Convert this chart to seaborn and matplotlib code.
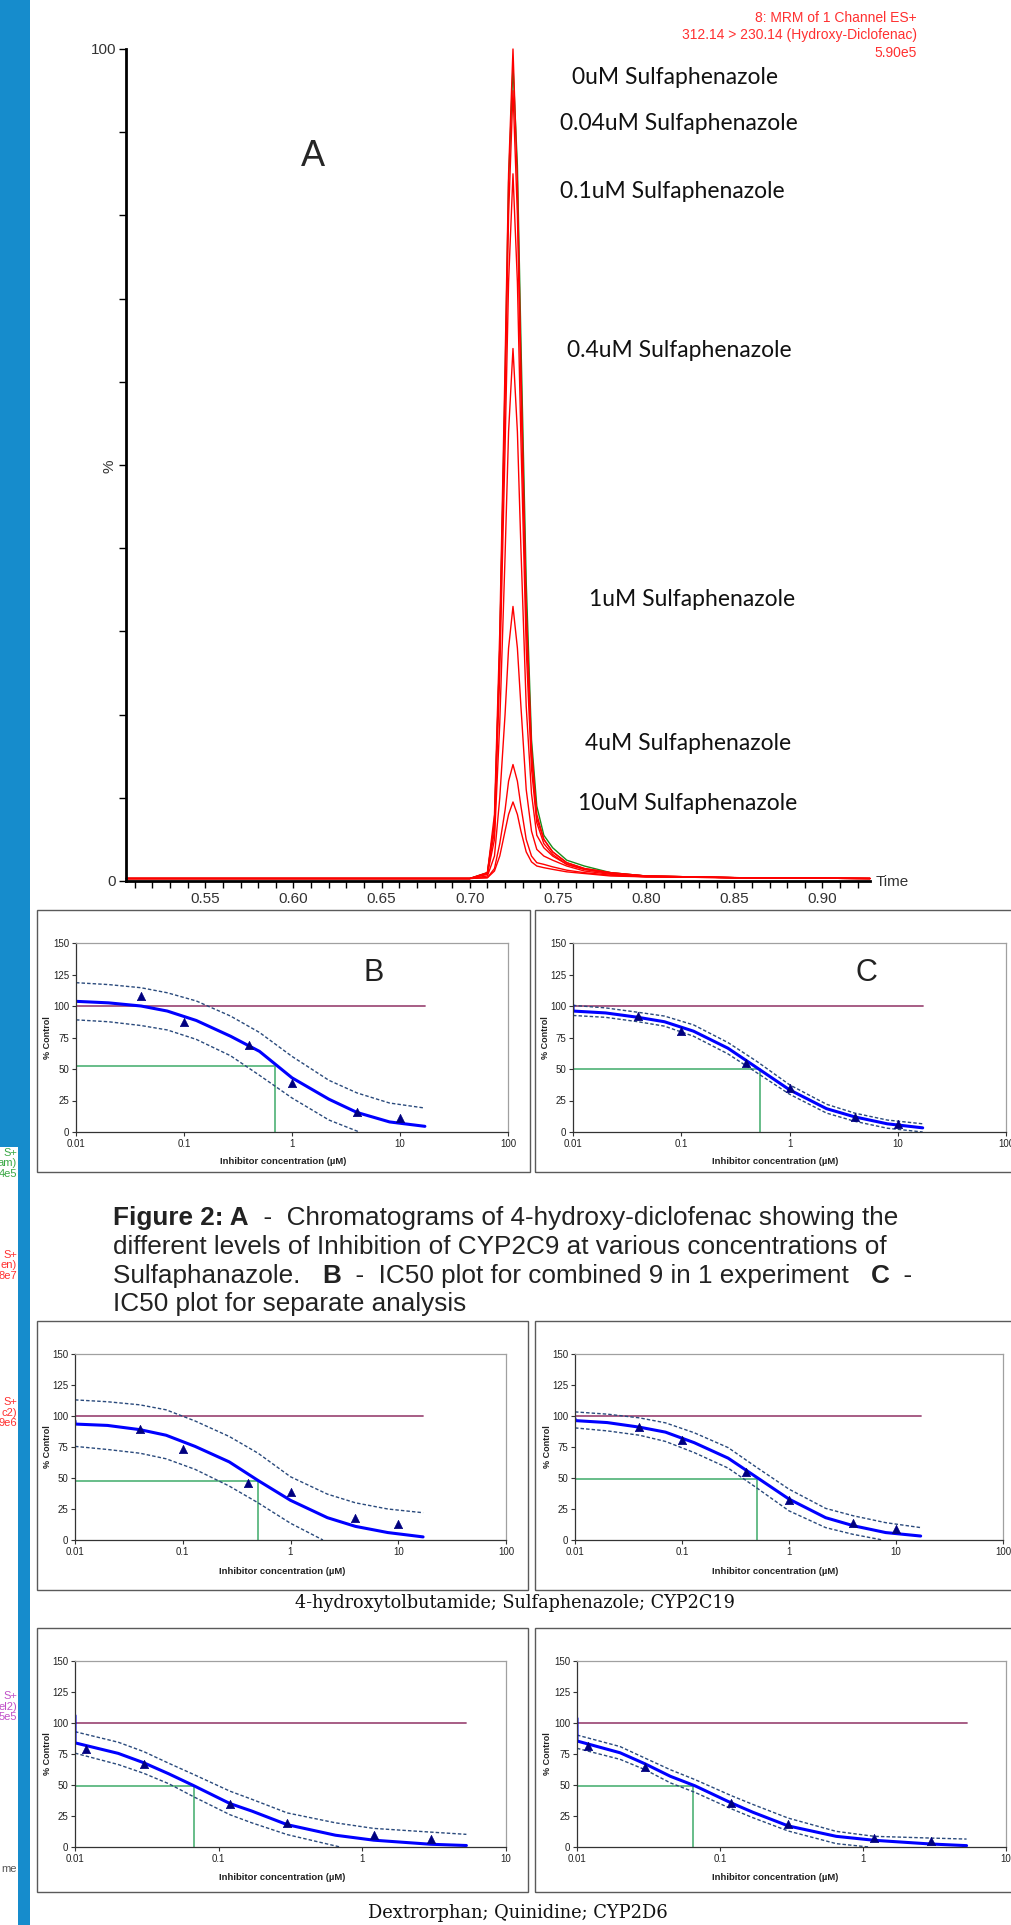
import matplotlib
matplotlib.use("Agg")
import matplotlib.pyplot as plt
from matplotlib.patches import Rectangle
from matplotlib.ticker import NullLocator
import numpy as np
import seaborn as sns

W, H = 1011, 1925

# ---- chromatogram A: retention time (min) and % of largest peak ----
rt = [0.505, 0.700, 0.710, 0.714, 0.717, 0.720, 0.722, 0.7245, 0.727, 0.729, 0.732,
      0.735, 0.738, 0.742, 0.747, 0.755, 0.765, 0.780, 0.800, 0.850, 0.927]
trace_green = [0.3, 0.3, 1.0, 7, 28, 60, 84, 98, 86, 65, 36, 17, 9, 5.5, 4, 2.5, 1.8, 1.0, 0.6, 0.4, 0.3]
trace_0 = [0.3, 0.3, 1.0, 8, 30, 62, 85, 100, 84, 62, 33, 16, 8, 5, 3.5, 2.2, 1.5, 1.0, 0.6, 0.4, 0.3]
trace_004 = [0.3, 0.3, 1.0, 7, 28, 58, 80, 95, 80, 59, 31, 15, 7.5, 5, 3.5, 2.2, 1.5, 1.0, 0.6, 0.4, 0.3]
trace_01 = [0.3, 0.3, 0.9, 6, 25, 52, 72, 85, 72, 53, 28, 13.5, 7, 4.5, 3.2, 2.0, 1.4, 0.9, 0.6, 0.4, 0.3]
trace_04 = [0.3, 0.3, 0.8, 5, 19, 39, 54, 64, 54, 40, 21, 10.5, 5.5, 4, 3, 2.0, 1.4, 0.9, 0.6, 0.4, 0.3]
trace_1 = [0.3, 0.3, 0.6, 3, 10, 20, 28, 33, 28, 21, 11, 6, 3.8, 3, 2.5, 1.8, 1.2, 0.8, 0.5, 0.4, 0.3]
trace_4 = [0.3, 0.3, 0.4, 1.5, 4.5, 8.5, 12, 14, 12, 9, 5, 3, 2.2, 2, 1.7, 1.3, 1.0, 0.7, 0.5, 0.4, 0.3]
trace_10 = [0.3, 0.3, 0.4, 1.2, 3, 6, 8, 9.5, 8, 6, 3.5, 2.3, 1.8, 1.6, 1.4, 1.1, 0.9, 0.6, 0.5, 0.4, 0.3]
conc_labels = ["0uM Sulfaphenazole", "0.04uM Sulfaphenazole", "0.1uM Sulfaphenazole",
               "0.4uM Sulfaphenazole", "1uM Sulfaphenazole", "4uM Sulfaphenazole",
               "10uM Sulfaphenazole"]
header_lines = ["8: MRM of 1 Channel ES+", "312.14 > 230.14 (Hydroxy-Diclofenac)", "5.90e5"]
rt_ticks = [0.55, 0.60, 0.65, 0.70, 0.75, 0.80, 0.85, 0.90]

# ---- IC50 plots (inhibitor conc in uM, % control) ----
conc = [0.04, 0.1, 0.4, 1, 4, 10]
conc_2d6 = [0.012, 0.03, 0.12, 0.3, 1.2, 3]
grid = [0.01, 0.02, 0.04, 0.07, 0.13, 0.27, 0.5, 1, 2.2, 4, 8, 17]
grid_2d6 = [0.01, 0.02, 0.03, 0.045, 0.067, 0.12, 0.17, 0.3, 0.65, 1.2, 3, 5.3]

# B - combined 9 in 1 (CYP2C9)
b_pct = [108, 87, 69, 39, 16, 11]
b_fit = [103.7, 102.5, 100, 96, 88.5, 76, 64, 43, 26, 15.5, 8, 4.5]
b_hi = [118.5, 117, 114.5, 110.5, 104, 92, 79, 60, 41, 31, 23, 19]
b_lo_x = [0.01, 0.02, 0.04, 0.07, 0.13, 0.27, 0.5, 1, 2.2, 4.2]
b_lo = [89, 87.5, 84.5, 81, 73.5, 60.5, 45, 27, 9.5, 0]
b_ic50 = (0.70, 52)

# C - separate analysis (CYP2C9)
c_pct = [92, 80, 55, 35, 12, 6.6]
c_fit = [100.5, 96, 94.5, 91, 87.5, 80, 66.5, 51, 33.5, 18.5, 12, 6.5, 3.3]
c_hi = [100.5, 98.5, 95, 92, 85, 71, 56, 37.5, 22, 15, 9.5, 6.5]
c_lo = [92.5, 91, 87.5, 84, 76, 62, 47, 30, 15, 8.5, 3, 0]
c_ic50 = (0.53, 49.7)

# CYP2C19 combined / separate
b2_pct = [89.5, 73, 46, 38.5, 17.5, 13]
b2_fit = [96, 93.5, 92.4, 89, 84.5, 75.5, 63, 48, 32, 18, 11, 6, 2.5]
b2_hi = [113, 111.5, 109, 105, 96, 83.5, 70, 51, 37, 30, 25, 22]
b2_lo_x = [0.01, 0.02, 0.04, 0.07, 0.13, 0.27, 0.5, 1, 2.0]
b2_lo = [75.5, 73, 70, 65.5, 57, 43.5, 30, 13.5, 0]
b2_ic50 = (0.50, 47.5)

c2_pct = [91, 81, 55, 32, 14, 8.6]
c2_fit = [98, 96.3, 94.7, 91, 87, 78.5, 66, 50.5, 33, 18, 11.5, 6, 3.2]
c2_hi = [103.3, 101.5, 98.5, 94.5, 86.5, 74.5, 58.5, 41, 25.5, 19.5, 14, 10]
c2_lo_x = [0.01, 0.02, 0.04, 0.07, 0.13, 0.27, 0.5, 1, 2.2, 4, 7.5]
c2_lo = [90.4, 88, 84.5, 79.5, 70.5, 58, 42, 23.5, 10, 4.5, 0]
c2_ic50 = (0.50, 49.4)

# CYP2D6 combined / separate
d_pct = [79, 67, 35, 19, 10, 6.4]
d_fit = [106, 84, 75.5, 68, 59, 49.5, 35, 29, 18, 9.5, 5.5, 2.2, 1.2]
d_hi = [93, 84.5, 77, 67.5, 58.5, 45, 38.5, 27.5, 19.5, 15, 12, 10.2]
d_lo_x = [0.01, 0.02, 0.03, 0.045, 0.067, 0.12, 0.17, 0.3, 0.7]
d_lo = [75.7, 66.5, 59.5, 51, 40.5, 26, 19.5, 10, 0]
d_ic50 = (0.067, 49)

d2_pct = [81.4, 64.8, 35.4, 18.5, 7.2, 4.6]
d2_fit = [103.7, 85.5, 76, 67, 57, 49.3, 35.5, 28, 17, 8.6, 5.4, 2.4, 1.1]
d2_hi = [90.3, 81, 71.6, 62.3, 54.3, 41.4, 34.3, 23.3, 12.6, 8.6, 7.2, 6.4]
d2_lo_x = [0.01, 0.02, 0.03, 0.045, 0.067, 0.12, 0.17, 0.3, 0.65, 1.1]
d2_lo = [79.6, 70.7, 62.3, 51.7, 44, 30.8, 23.6, 12.9, 2.7, 0]
d2_ic50 = (0.065, 49.3)

# ---------------------------------------------------------------
sns.set_theme(style="white")
plt.rcParams["font.family"] = ["Liberation Sans", "DejaVu Sans"]

BLUE_BAR = "#168ccc"
NAVY = "#000080"
BAND = "#2a4a7c"
PLUM = "#a0507c"
GREEN = "#5cb880"

fig = plt.figure(figsize=(W / 100, H / 100), dpi=100)
fig.patch.set_facecolor("white")


def fx(x):
    return x / W


def fy(y):
    return 1 - y / H


def frac_rect(l, t, r, b):
    return [l / W, 1 - b / H, (r - l) / W, (b - t) / H]


def fig_rect(l, t, r, b, **kw):
    fig.add_artist(Rectangle((fx(l), fy(b)), (r - l) / W, (b - t) / H,
                             transform=fig.transFigure, **kw))


# left blue strip with clipped window fragments
fig_rect(0, 0, 30, 1147, color=BLUE_BAR, lw=0, zorder=0)
fig_rect(18, 1147, 30, H, color=BLUE_BAR, lw=0, zorder=0)
frag = [(["S+", "am)", "4e5"], 1153, "#3aa845"), (["S+", "en)", "8e7"], 1255, "#ff3030"),
        (["S+", "c2)", "9e6"], 1402, "#ff3030"), (["S+", "el2)", "5e5"], 1696, "#c050c8"),
        (["me"], 1869, "#555555")]
for words, y0, col in frag:
    for i, w in enumerate(words):
        fig.text(fx(17), fy(y0 + i * 10.5), w, ha="right", va="center", fontsize=8, color=col)

# ---- chromatogram ----
ax = fig.add_axes(frac_rect(126, 49, 870, 881))
ax.set_facecolor("none")
traces = [trace_green, trace_0, trace_004, trace_01, trace_04, trace_1, trace_4, trace_10]
colors = ["#1a8a1a"] + ["#ff0000"] * 7
for y, c in zip(traces, colors):
    sns.lineplot(x=rt, y=y, ax=ax, color=c, lw=1.0, estimator=None, sort=False, clip_on=False)
ax.set_xlim(0.505, 0.927)
ax.set_ylim(0, 100)
ax.spines[["top", "right"]].set_visible(False)
for s in ["left", "bottom"]:
    ax.spines[s].set_linewidth(2)
    ax.spines[s].set_color("black")
ax.set_xticks(rt_ticks)
ax.set_xticklabels([f"{t:.2f}" for t in rt_ticks])
ax.set_xticks(np.round(np.arange(0.51, 0.93, 0.01), 2), minor=True)
ax.set_yticks(list(range(0, 101, 10)))
ax.set_yticklabels(["0", "", "", "", "", "%", "", "", "", "", "100"])
ax.get_yticklabels()[5].set_rotation(90)
ax.tick_params(axis="both", which="both", direction="out", length=5, width=1,
               color="black", labelsize=11, labelcolor="#333333", bottom=True, left=True)
ax.tick_params(axis="x", pad=3)
ax.tick_params(axis="y", pad=2)
ax.set_xlabel("")
ax.set_ylabel("")
fig.text(fx(876), fy(882), "Time", ha="left", va="center", fontsize=11, color="#333333")

for i, line in enumerate(header_lines):
    fig.text(fx(917), fy(18 + i * 17.5), line, ha="right", va="center", fontsize=10, color="#ff3030")
fig.text(fx(313), fy(157), "A", ha="center", va="center", fontsize=26)

label_pos = [(572, 77), (560, 124), (560, 191), (567, 350), (589, 599), (585, 744), (578, 804)]
for txt, (px, py) in zip(conc_labels, label_pos):
    fig.text(fx(px), fy(py), txt, ha="left", va="center", fontsize=16.5,
             family=["Lato", "DejaVu Sans"], color="#111111")


# ---- IC50 panels ----
def ic50_panel(box, area, xmax, pts_x, pts, fit_x, fit, hi_x, hi, lo_x, lo, ic50, line_end,
               xlabel_y, ylabel_x, letter=None):
    fig_rect(*box, fill=False, edgecolor="#5a5a5a", lw=1.0)
    a = fig.add_axes(frac_rect(*area))
    a.set_facecolor("white")
    sns.lineplot(x=[0.01, line_end], y=[100, 100], ax=a, color=PLUM, lw=1.3, estimator=None, sort=False)
    sns.lineplot(x=[0.01, ic50[0], ic50[0]], y=[ic50[1], ic50[1], 0], ax=a, color=GREEN, lw=1.3,
                 estimator=None, sort=False)
    sns.lineplot(x=hi_x, y=hi, ax=a, color=BAND, lw=1.0, ls=(0, (2.5, 1.5)), estimator=None, sort=False)
    sns.lineplot(x=lo_x, y=lo, ax=a, color=BAND, lw=1.0, ls=(0, (2.5, 1.5)), estimator=None, sort=False)
    sns.lineplot(x=fit_x, y=fit, ax=a, color="#0000ff", lw=2.2, estimator=None, sort=False)
    sns.scatterplot(x=pts_x, y=pts, ax=a, marker="^", s=36, color=NAVY, edgecolor=NAVY, zorder=5)
    a.set_xscale("log")
    a.set_xlim(0.01, xmax)
    a.set_ylim(0, 150)
    decades = [d for d in [0.01, 0.1, 1, 10, 100] if d <= xmax]
    a.set_xticks(decades)
    a.set_xticklabels([f"{d:g}" for d in decades])
    a.xaxis.set_minor_locator(NullLocator())
    a.set_yticks([0, 25, 50, 75, 100, 125, 150])
    a.tick_params(axis="both", which="both", direction="out", length=3, width=0.8,
                  color="#333333", labelsize=7, labelcolor="#222222", bottom=True, left=True, pad=2)
    for s in ["left", "bottom"]:
        a.spines[s].set_color("#333333")
        a.spines[s].set_linewidth(0.9)
    for s in ["top", "right"]:
        a.spines[s].set_color("#a0a0a0")
        a.spines[s].set_linewidth(0.9)
    a.set_xlabel("")
    a.set_ylabel("")
    fig.text(fx((box[0] + min(box[2], 1015)) / 2), fy(xlabel_y), "Inhibitor concentration (\u00b5M)",
             ha="center", va="center", fontsize=6.8, fontweight="bold", color="#222222")
    fig.text(fx(ylabel_x), fy((area[1] + area[3]) / 2), "% Control", rotation=90,
             ha="center", va="center", fontsize=6.5, fontweight="bold", color="#222222")
    if letter:
        fig.text(fx(letter[1]), fy(letter[2]), letter[0], ha="center", va="center", fontsize=22,
                 color="#222222")


full_grid = [0.01] + grid
full_grid_2d6 = [0.01] + grid_2d6

ic50_panel((37, 910, 530, 1172), (76, 943, 508, 1132), 100, conc, b_pct, grid, b_fit, grid, b_hi,
           b_lo_x, b_lo, b_ic50, 17, 1162, 48, ("B", 374, 973))
ic50_panel((535, 910, 1030, 1172), (573, 943, 1006, 1132), 100, conc, c_pct, full_grid, c_fit, grid, c_hi,
           grid, c_lo, c_ic50, 17, 1162, 546, ("C", 866, 973))
ic50_panel((37, 1321, 528, 1590), (75, 1354, 506, 1540), 100, conc, b2_pct, full_grid, b2_fit, grid, b2_hi,
           b2_lo_x, b2_lo, b2_ic50, 17, 1572, 48)
ic50_panel((535, 1321, 1030, 1590), (575, 1354, 1003, 1540), 100, conc, c2_pct, full_grid, c2_fit, grid,
           c2_hi, c2_lo_x, c2_lo, c2_ic50, 17, 1572, 547)
ic50_panel((37, 1628, 528, 1892), (75, 1661, 506, 1847), 10, conc_2d6, d_pct, full_grid_2d6, d_fit,
           grid_2d6, d_hi, d_lo_x, d_lo, d_ic50, 5.3, 1877, 48)
ic50_panel((535, 1628, 1030, 1892), (577, 1661, 1006, 1847), 10, conc_2d6, d2_pct, full_grid_2d6, d2_fit,
           grid_2d6, d2_hi, d2_lo_x, d2_lo, d2_ic50, 5.3, 1877, 548)

# ---- captions ----
renderer = fig.canvas.get_renderer()
cap_lines = [
    [("Figure 2: A", True), ("  -  Chromatograms of 4-hydroxy-diclofenac showing the", False)],
    [("different levels of Inhibition of CYP2C9 at various concentrations of", False)],
    [("Sulfaphanazole.   ", False), ("B", True), ("  -  IC50 plot for combined 9 in 1 experiment   ", False),
     ("C", True), ("  -", False)],
    [("IC50 plot for separate analysis", False)],
]
cap_y = [1218, 1247, 1276, 1304]
for runs, y in zip(cap_lines, cap_y):
    x = 113
    for txt, bold in runs:
        t = fig.text(fx(x), fy(y), txt, ha="left", va="center", fontsize=18.8,
                     fontweight="bold" if bold else "normal", color="#222222")
        x += t.get_window_extent(renderer).width

fig.text(fx(515), fy(1603), "4-hydroxytolbutamide; Sulfaphenazole; CYP2C19", ha="center", va="center",
         fontsize=12.7, family=["DejaVu Serif"], color="#111111")
fig.text(fx(518), fy(1913), "Dextrorphan; Quinidine; CYP2D6", ha="center", va="center",
         fontsize=12.9, family=["DejaVu Serif"], color="#111111")

fig.savefig("out.png", dpi=100, facecolor="white")
